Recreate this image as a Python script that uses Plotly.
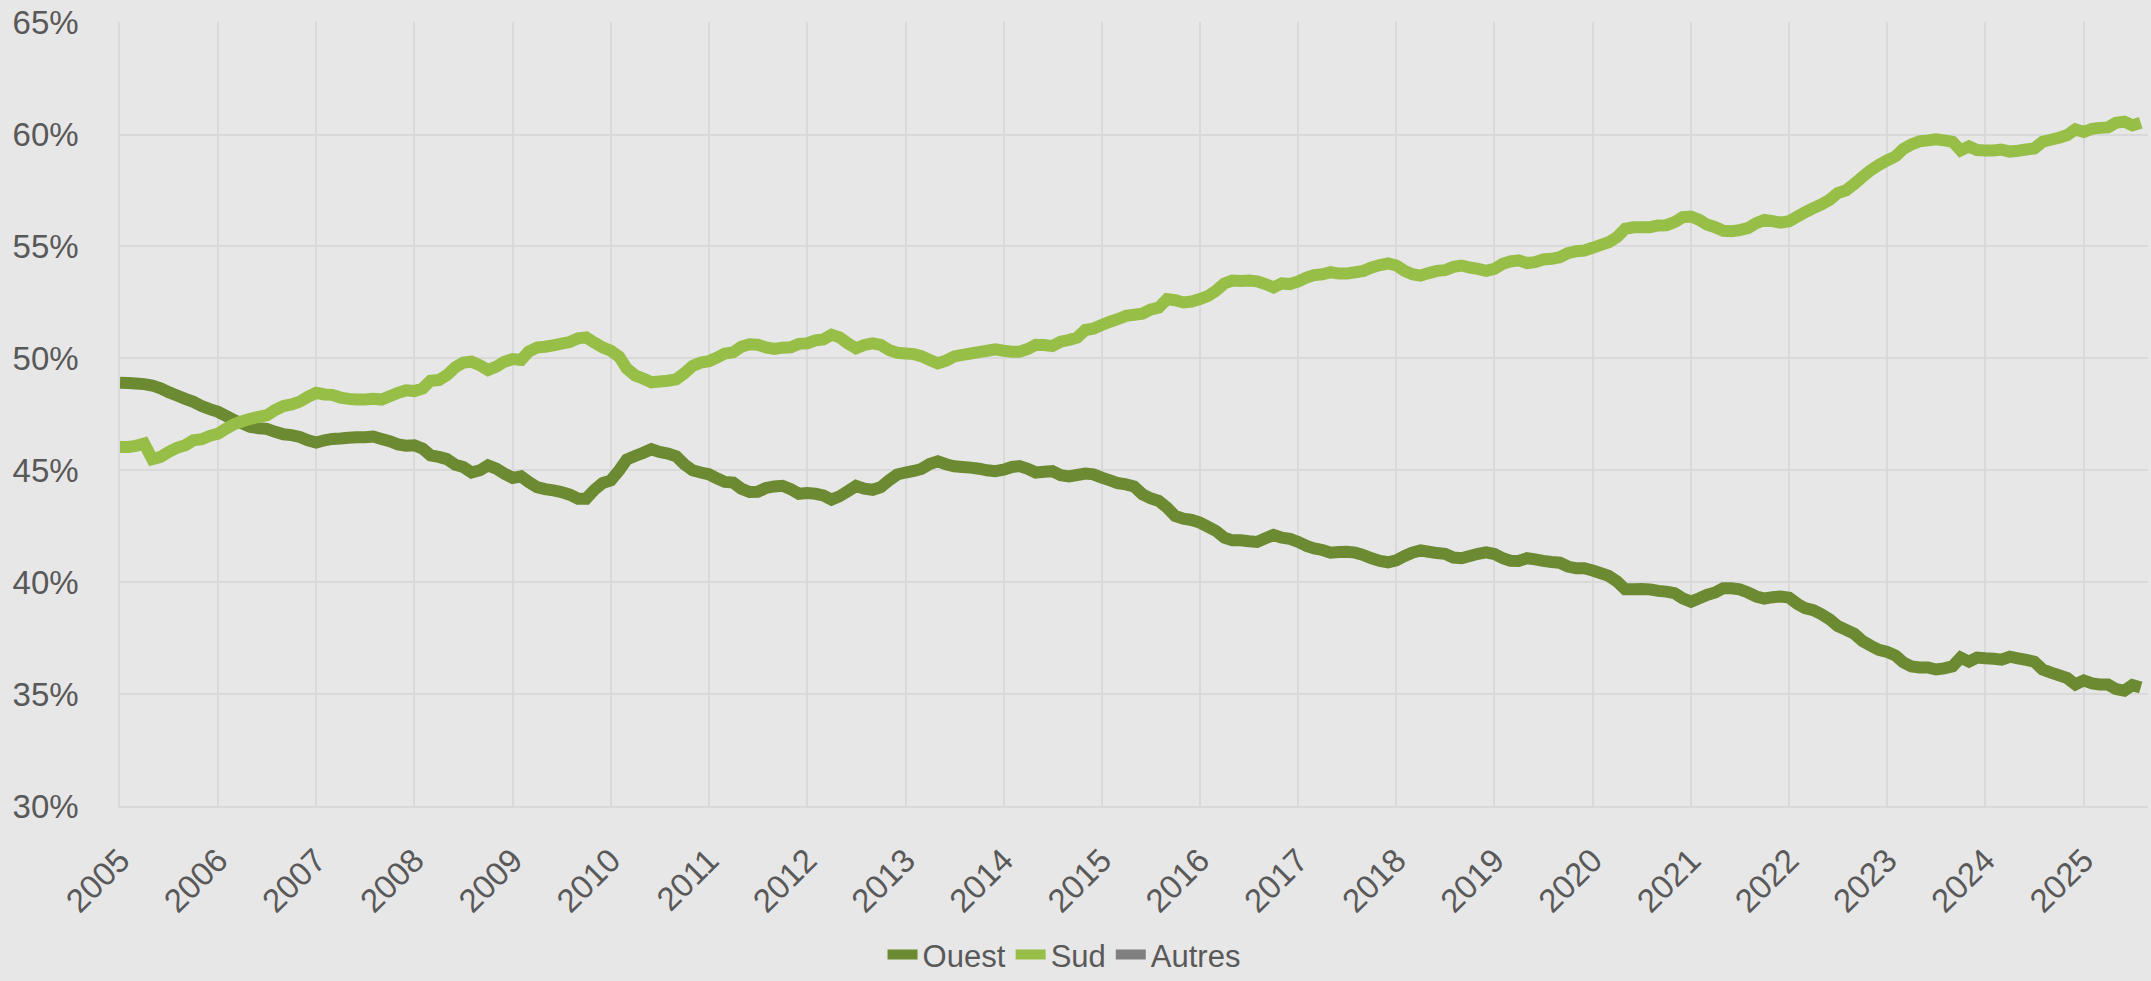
import pandas as pd
import plotly.graph_objects as go

# Monthly share (%) by region, Jan 2005 onward
OUEST = [
    48.91, 48.90, 48.88, 48.85, 48.79, 48.66, 48.49, 48.34, 48.19, 48.06, 47.87, 47.73,
    47.61, 47.42, 47.24, 47.09, 46.94, 46.88, 46.85, 46.72, 46.61, 46.57, 46.49, 46.34,
    46.24, 46.34, 46.40, 46.42, 46.45, 46.48, 46.48, 46.51, 46.40, 46.30, 46.16, 46.10,
    46.12, 45.97, 45.67, 45.60, 45.50, 45.25,
    45.15, 44.90, 45.00, 45.22, 45.07, 44.85, 44.66, 44.73, 44.48, 44.25, 44.16, 44.10,
    44.03, 43.91, 43.73, 43.73, 44.13, 44.43, 44.55, 45.00, 45.48, 45.64, 45.78, 45.94,
    45.82, 45.75, 45.63, 45.27, 45.00, 44.90, 44.82, 44.63, 44.48, 44.45, 44.18, 44.03,
    44.04, 44.21, 44.28, 44.31, 44.16, 43.95,
    43.98, 43.95, 43.88, 43.69, 43.84, 44.07, 44.30, 44.18, 44.13, 44.25, 44.55, 44.81,
    44.90, 44.97, 45.06, 45.28, 45.40, 45.27, 45.18, 45.15, 45.12, 45.07, 45.00, 44.96,
    45.03, 45.15, 45.19, 45.07, 44.90, 44.93, 44.96, 44.78, 44.73, 44.79, 44.85, 44.82,
    44.67, 44.55, 44.43, 44.37, 44.28,
    43.93, 43.75, 43.63, 43.33, 42.96, 42.84, 42.78, 42.66, 42.47, 42.29, 41.99, 41.87,
    41.87, 41.83, 41.80, 41.96, 42.11, 41.99, 41.94, 41.80, 41.62, 41.51, 41.44, 41.32,
    41.35, 41.36, 41.32, 41.21, 41.07, 40.95, 40.89, 40.98, 41.17, 41.32, 41.42, 41.36,
    41.30, 41.27, 41.10, 41.07, 41.17, 41.27,
    41.33, 41.26, 41.07, 40.96, 40.95, 41.07, 41.02, 40.95, 40.90, 40.87, 40.70, 40.62,
    40.62, 40.52, 40.40, 40.28, 40.03, 39.68, 39.68, 39.70, 39.68, 39.61, 39.58, 39.51,
    39.28, 39.13, 39.28, 39.43, 39.54, 39.73, 39.73, 39.68, 39.54, 39.36, 39.27, 39.33,
    39.36, 39.31, 39.03, 38.84, 38.75,
    38.57, 38.34, 38.04, 37.87, 37.69, 37.37, 37.16, 36.98, 36.88, 36.72, 36.42, 36.24,
    36.19, 36.19, 36.10, 36.15, 36.24, 36.63, 36.45, 36.63, 36.60, 36.58, 36.54, 36.67,
    36.60, 36.53, 36.45, 36.10, 35.96, 35.84, 35.71, 35.43, 35.61, 35.48, 35.43, 35.43,
    35.22, 35.15, 35.40, 35.29,
]

SUD = [
    46.04, 46.04, 46.09, 46.19, 45.50, 45.60, 45.82, 46.00, 46.12, 46.34, 46.39, 46.54,
    46.64, 46.87, 47.06, 47.19, 47.30, 47.39, 47.46, 47.69, 47.87, 47.94, 48.07, 48.28,
    48.46, 48.39, 48.37, 48.25, 48.19, 48.16, 48.16, 48.19, 48.16, 48.31, 48.46, 48.57,
    48.54, 48.66, 49.00, 49.03, 49.25, 49.60,
    49.81, 49.85, 49.69, 49.48, 49.63, 49.85, 49.97, 49.93, 50.30, 50.48, 50.52, 50.58,
    50.66, 50.73, 50.90, 50.94, 50.70, 50.49, 50.34, 50.07, 49.55, 49.24, 49.10, 48.93,
    48.97, 49.00, 49.06, 49.33, 49.66, 49.81, 49.87, 50.04, 50.22, 50.27, 50.52, 50.63,
    50.61, 50.49, 50.42, 50.48, 50.50, 50.65,
    50.67, 50.81, 50.85, 51.06, 50.94, 50.67, 50.45, 50.60, 50.67, 50.60, 50.37, 50.25,
    50.22, 50.19, 50.10, 49.93, 49.78, 49.90, 50.09, 50.16, 50.22, 50.28, 50.34, 50.40,
    50.34, 50.30, 50.30, 50.42, 50.61, 50.60, 50.55, 50.75, 50.82, 50.93, 51.27, 51.33,
    51.49, 51.64, 51.75, 51.90, 51.95,
    52.00, 52.18, 52.27, 52.65, 52.60, 52.50, 52.54, 52.65, 52.79, 53.02, 53.35, 53.48,
    53.46, 53.48, 53.44, 53.32, 53.17, 53.35, 53.32, 53.44, 53.61, 53.72, 53.76, 53.85,
    53.79, 53.79, 53.85, 53.91, 54.06, 54.17, 54.24, 54.15, 53.91, 53.76, 53.70, 53.81,
    53.91, 53.94, 54.09, 54.15, 54.06, 54.00,
    53.91, 54.00, 54.23, 54.33, 54.38, 54.26, 54.30, 54.42, 54.45, 54.52, 54.70, 54.79,
    54.82, 54.94, 55.07, 55.19, 55.42, 55.79, 55.86, 55.86, 55.86, 55.94, 55.95, 56.09,
    56.31, 56.34, 56.19, 55.98, 55.86, 55.70, 55.68, 55.73, 55.82, 56.04, 56.19, 56.13,
    56.06, 56.13, 56.34, 56.53, 56.71,
    56.88, 57.09, 57.39, 57.51, 57.80, 58.11, 58.41, 58.64, 58.85, 59.03, 59.35, 59.56,
    59.70, 59.74, 59.79, 59.74, 59.68, 59.29, 59.47, 59.31, 59.29, 59.29, 59.33, 59.24,
    59.28, 59.33, 59.38, 59.68, 59.77, 59.86, 59.98, 60.23, 60.12, 60.26, 60.30, 60.32,
    60.53, 60.58, 60.41, 60.53,
]

# "Autres" lies far below the displayed range; only its legend entry is visible
AUTRES = [None]

MONTHS = pd.date_range("2005-01-01", periods=len(OUEST), freq="MS")
YEAR_TICKS = [str(y) for y in range(2005, 2026)]

TEXT = "#595959"
GRID = "#D9D9D9"
FONT = "Liberation Sans, Arial, sans-serif"
LINE_W = 12

fig = go.Figure()
fig.add_trace(go.Scatter(x=MONTHS, y=OUEST, name="Ouest", mode="lines",
                         line=dict(color="#6B8A31", width=LINE_W, simplify=False)))
fig.add_trace(go.Scatter(x=MONTHS, y=SUD, name="Sud", mode="lines",
                         line=dict(color="#97BF47", width=LINE_W, simplify=False)))
fig.add_trace(go.Scatter(x=MONTHS[:len(AUTRES)], y=AUTRES, name="Autres", mode="lines",
                         line=dict(color="#808080", width=LINE_W)))

fig.update_layout(
    width=2151, height=981, autosize=False,
    paper_bgcolor="#E7E7E7", plot_bgcolor="#E7E7E7",
    margin=dict(l=120, r=3, t=22, b=175, autoexpand=False),
    font=dict(family=FONT, color=TEXT, size=33),
    showlegend=True,
    legend=dict(orientation="h", x=0.4655, xanchor="center", y=-0.19, yanchor="middle",
                font=dict(size=31, color=TEXT), bgcolor="rgba(0,0,0,0)",
                itemwidth=30, traceorder="normal", tracegroupgap=0),
    xaxis=dict(
        type="date",
        range=["2005-01-01", "2025-08-28"],
        tickmode="array",
        tickvals=[f"{y}-01-01" for y in YEAR_TICKS],
        ticktext=YEAR_TICKS,
        tickangle=-45,
        showgrid=True, gridcolor=GRID, gridwidth=1.5,
        showline=True, linecolor=GRID, linewidth=1.5,
        zeroline=False, ticks="", automargin=False,
        tickfont=dict(size=33, color=TEXT),
        ticklabelstandoff=20,
    ),
    yaxis=dict(
        range=[30, 65.03], dtick=5, tick0=30,
        ticksuffix="%",
        showgrid=True, gridcolor=GRID, gridwidth=1.5,
        showline=True, linecolor=GRID, linewidth=1.5,
        zeroline=False, ticks="", automargin=False,
        tickfont=dict(size=33, color=TEXT),
        ticklabelstandoff=33,
    ),
)

fig.write_html("out.html")
